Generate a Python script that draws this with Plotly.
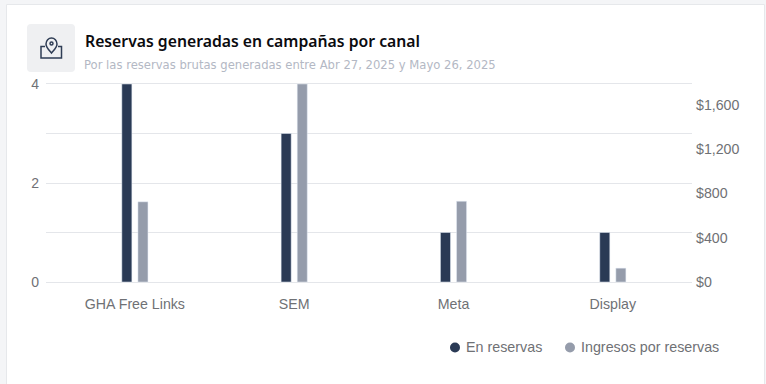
import plotly.graph_objects as go

W, H = 766, 384
categories = ["GHA Free Links", "SEM", "Meta", "Display"]
en_reservas = [4, 3, 1, 1]
ingresos = [725, 1790, 730, 125]
left_vals = [0, 1, 2, 3, 4]
left_text = ["0", "", "2", "", "4"]
right_vals = [0, 400, 800, 1200, 1600]
right_text = ["$0", "$400", "$800", "$1,200", "$1,600"]
title = "Reservas generadas en campañas por canal"
subtitle = "Por las reservas brutas generadas entre Abr 27, 2025 y Mayo 26, 2025"
legend_names = ["En reservas", "Ingresos por reservas"]
DARK, GRAY = "#2a3a55", "#959cab"
LABEL = "#6f7175"
GRID = "#e4e6ea"

def px(x): return x / W
def py(y): return 1 - y / H

def path(*parts):
    out = []
    for p in parts:
        if isinstance(p, str):
            out.append(p)
        else:
            out.append(f"{px(p[0]):.5f},{py(p[1]):.5f}")
    return " ".join(out)

fig = go.Figure()
fig.add_trace(go.Bar(x=categories, y=en_reservas, marker_color=DARK, width=0.063, offset=-0.082,
                     yaxis="y", showlegend=False, name=legend_names[0]))
fig.add_trace(go.Bar(x=categories, y=ingresos, marker_color=GRAY, width=0.063, offset=0.019,
                     yaxis="y2", showlegend=False, name=legend_names[1]))

rect = lambda x0, y0, x1, y1, **k: dict(type="rect", xref="paper", yref="paper", x0=px(x0), x1=px(x1),
                                         y0=py(y1), y1=py(y0), layer="below", **k)
circle = lambda cx, cy, rad, col: dict(type="circle", xref="paper", yref="paper", x0=px(cx - rad), x1=px(cx + rad),
                                       y0=py(cy + rad), y1=py(cy - rad), fillcolor=col, line_width=0)
r = 4
icon_box = path("M", (27 + r, 24), "L", (75 - r, 24), "Q", (75, 24), (75, 24 + r), "L", (75, 72 - r), "Q", (75, 72), (75 - r, 72),
                "L", (27 + r, 72), "Q", (27, 72), (27, 72 - r), "L", (27, 24 + r), "Q", (27, 24), (27 + r, 24), "Z")
icon_line = dict(color="#2f3d55", width=1.5)
pin = path("M", (51.5, 53), "C", (49, 50), (46, 47.5), (46, 44), "C", (46, 40.5), (48.5, 38), (51.5, 38),
           "C", (54.5, 38), (57, 40.5), (57, 44), "C", (57, 47.5), (54, 50), (51.5, 53), "Z")
dot = path("M", (50, 43.5), "C", (50, 41.5), (53, 41.5), (53, 43.5), "C", (53, 45.5), (50, 45.5), (50, 43.5), "Z")
box = path("M", (45, 46.5), "L", (41, 46.5), "L", (41, 58), "L", (61.5, 58), "L", (61.5, 46.5), "L", (58, 46.5))

shapes = [
    rect(0, 0, W, H, fillcolor="#f4f5f7", line_width=0),
    rect(6.5, 4.5, 764.5, H + 5, fillcolor="#ffffff", line=dict(color="#e6e8eb", width=1)),
    dict(type="path", path=icon_box, xref="paper", yref="paper", fillcolor="#eff0f2", line_width=0, layer="below"),
    dict(type="path", path=pin, xref="paper", yref="paper", line=icon_line),
    dict(type="path", path=dot, xref="paper", yref="paper", line=icon_line),
    dict(type="path", path=box, xref="paper", yref="paper", line=icon_line),
    circle(455, 347.5, 5, DARK),
    circle(570, 347.5, 5, GRAY),
]

note = lambda text, x, y, **f: dict(text=text, x=px(x), y=py(y), xref="paper", yref="paper", xanchor="left",
                                    yanchor="middle", showarrow=False, borderpad=0, borderwidth=0, font=f)
annotations = [
    note(title, 85, 41, family="Noto Sans", size=15.75, color="#0b0b0f", weight=600),
    note(subtitle, 84, 65, family="DejaVu Sans", size=11.6, color="#b3b8c4"),
    note(legend_names[0], 466, 347, family="Liberation Sans", size=14.3, color=LABEL),
    note(legend_names[1], 581, 347, family="Liberation Sans", size=14.3, color=LABEL),
]

fig.update_layout(
    width=W, height=H, margin=dict(l=0, r=0, t=0, b=0, autoexpand=False), autosize=False,
    paper_bgcolor="#ffffff", plot_bgcolor="rgba(0,0,0,0)",
    font=dict(family="Liberation Sans", size=14, color=LABEL),
    barmode="overlay", shapes=shapes, annotations=annotations, showlegend=False,
    xaxis=dict(domain=[px(46), px(692)], range=[-0.558, 3.497], type="category", automargin=False,
               showgrid=False, zeroline=False, showline=True, mirror=True, linecolor=GRID, linewidth=1,
               layer="below traces", ticks="", ticklabelstandoff=9,
               tickfont=dict(size=14.2, color=LABEL)),
    yaxis=dict(domain=[py(282), py(84)], range=[0, 4], tickvals=left_vals, ticktext=left_text, automargin=False,
               showgrid=True, gridcolor=GRID, gridwidth=1, zeroline=False, showline=False, ticks="",
               ticklabelstandoff=6, tickfont=dict(size=14, color=LABEL)),
    yaxis2=dict(overlaying="y", side="right", range=[0, 1790], tickvals=right_vals, ticktext=right_text, automargin=False,
                showgrid=False, zeroline=False, showline=False, ticks="", ticklabelstandoff=3,
                tickfont=dict(size=14.2, color=LABEL)),
)

fig.write_html("out.html", config={"displayModeBar": False},
               post_script="document.body.style.margin='0';")
